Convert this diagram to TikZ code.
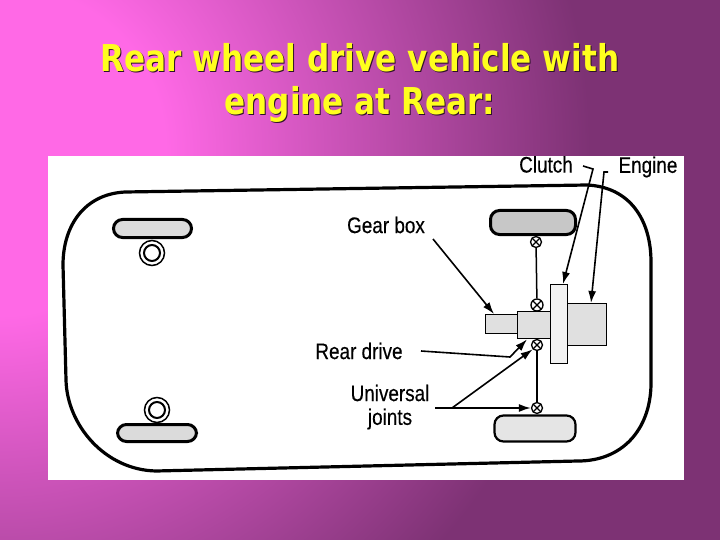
\documentclass[tikz,border=0pt]{standalone}
\usepackage{fontspec}
\setmainfont{Liberation Sans}
\newfontfamily\titlefont[FakeStretch=0.84]{DejaVu Sans Bold}
\newfontfamily\labelfont[FakeStretch=0.84,FakeBold=0.35]{Liberation Sans}
\usepackage{tikz}
\usetikzlibrary{arrows.meta, positioning, shapes, calc}
\definecolor{titleyellow}{RGB}{255,255,30}
\definecolor{bgpink}{RGB}{255,105,230}
\definecolor{bgpurple}{RGB}{125,50,116}
\pgfdeclareradialshading{slidebg}{\pgfpoint{0bp}{0bp}}{color(0bp)=(bgpink); color(7bp)=(bgpink); color(25bp)=(bgpurple); color(50bp)=(bgpurple)}
\tikzset{
  wheel/.style={draw=black, line width=3pt, fill=black!14, rounded corners=9pt, inner sep=0pt},
  ujoint/.style={draw=black, circle, line width=1.3pt, fill=white, minimum size=11pt, inner sep=0pt,
    path picture={\draw[line width=1.1pt] (path picture bounding box.north west) -- (path picture bounding box.south east)
      (path picture bounding box.north east) -- (path picture bounding box.south west);}},
  unit/.style={draw=black, line width=1.4pt, fill=black!12, inner sep=0pt},
  lbl/.style={font=\labelfont\fontsize{22.5}{24}\selectfont, text=black, align=center, inner sep=0pt},
  ptr/.style={-{Latex[length=12pt,width=8pt]}, line width=1.6pt, black},
  titletext/.style={font=\titlefont\fontsize{37}{43}\selectfont, align=center, inner sep=0pt}
}
\begin{document}
\begin{tikzpicture}[x=1pt, y=-1pt]
  \useasboundingbox (0,0) rectangle (720,540);
  % Background
  \begin{scope}
    \clip (0,0) rectangle (720,540);
    \fill[bgpurple] (0,0) rectangle (720,540);
    \shade[shading=slidebg] (0,150) circle (590);
  \end{scope}
  % Title with its shadow
  \node[titletext, text=black!65!bgpurple] at (361,84) {Rear wheel drive vehicle with\\engine at Rear:};
  \node[titletext, text=titleyellow] (title) at (360,83) {Rear wheel drive vehicle with\\engine at Rear:};
  \fill[white] (48,156) rectangle (684,480);
  % Body
  \draw[line width=3.2pt] (125,192) -- (587,185) .. controls (630,187) and (651,220) .. (651,262)
    -- (651,385) .. controls (650,430) and (622,461) .. (578,461)
    -- (156,471) .. controls (105,470) and (67,425) .. (66,380)
    -- (63,265) .. controls (63,225) and (85,194) .. (125,192) -- cycle;
  % Wheels
  \node[wheel, minimum width=78pt, minimum height=18pt] (wfl) at (152.5,228.5) {};
  \node[wheel, minimum width=79pt, minimum height=17pt] (wrl) at (157,433) {};
  \node[wheel, fill=black!22, minimum width=85pt, minimum height=24pt] (wfr) at (533,222.5) {};
  \node[wheel, line width=2.2pt, fill=black!10, minimum width=81pt, minimum height=26pt] (wrr) at (535,428.5) {};
  % Rings beside the left wheels
  \node[draw, circle, line width=1.5pt, fill=white, minimum size=25pt, inner sep=0pt] (ringa) at (152,253) {};
  \node[draw, circle, line width=2pt, minimum size=16pt, inner sep=0pt] (ringb) at (152,253) {};
  \node[draw, circle, line width=1.5pt, fill=white, minimum size=25pt, inner sep=0pt] (ringc) at (157,410) {};
  \node[draw, circle, line width=2pt, minimum size=16pt, inner sep=0pt] (ringd) at (157,410) {};
  % Drive units
  \node[unit, anchor=north west, minimum width=32pt, minimum height=19pt] (gear) at (485,314) {};
  \node[unit, anchor=north west, minimum width=39pt, minimum height=42pt] (engine) at (567,303) {};
  \node[unit, anchor=north west, minimum width=33pt, minimum height=27pt] (drive) at (517,311) {};
  \node[unit, fill=black!5, anchor=north west, minimum width=17pt, minimum height=79pt] (clutch) at (550,284) {};
  % Joints and half shafts
  \node[ujoint] (ja) at (536,242) {};
  \node[ujoint, minimum size=12pt] (jb) at (537,305) {};
  \node[ujoint] (jc) at (537,345) {};
  \node[ujoint] (jd) at (537,408) {};
  \draw[line width=1.5pt] (ja) -- (jb);
  \draw[line width=1.5pt] (jc) -- (jd);
  % Labels
  \node[lbl] (lclutch) at (546,164.5) {Clutch};
  \node[lbl] (lengine) at (648,167) {Engine};
  \node[lbl] (lgear) at (386,225) {Gear box};
  \node[lbl] (lrear) at (359,351) {Rear drive};
  \node[lbl] (luni) at (390,393) {Universal};
  \node[lbl] (ljoints) at (390,419) {joints};
  % Leader lines
  \coordinate (cs) at (583,166);
  \coordinate (cb) at (593,169);
  \coordinate (es) at (608,172);
  \coordinate (eb) at (604,172);
  \coordinate (gs) at (433,239);
  \coordinate (rs) at (421,351);
  \coordinate (rbend) at (510,357);
  \coordinate (us) at (435,408);
  \coordinate (ub) at (452,408);
  \draw[ptr] (cs) -- (cb) -- (clutch.north -| 563,0);
  \draw[ptr] (es) -- (eb) -- (engine.north -| 591,0);
  \draw[ptr] (gs) -- (gear.north -| 494,0);
  \draw[ptr] (rs) -- (rbend) -- (drive.south east -| 527,0);
  \draw[ptr] (us) -- (ub) -- (jc.south west);
  \draw[ptr] (ub) -- (jd.west);
\end{tikzpicture}
\end{document}
